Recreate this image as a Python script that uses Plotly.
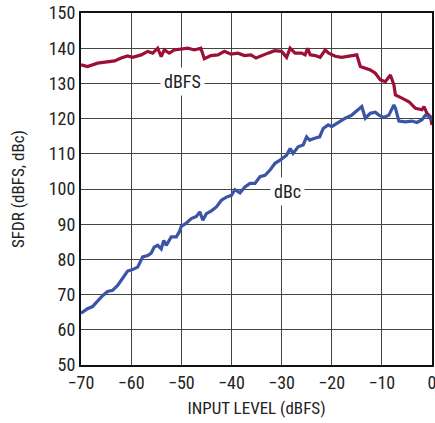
import plotly.graph_objects as go

# dBFS series
dbfs_x = [-70, -68.7, -66.7, -64.7, -63.3, -62, -60.7, -59.7, -58, -56.7,
          -55.7, -54.7, -54, -53.4, -52.4, -51.4, -50, -48.7, -47.4, -46.1,
          -45.4, -44.1, -42.7, -41.4, -40.1, -38.7, -37.4, -36.1, -35.1, -34,
          -32.7, -31.4, -30, -29, -28.3, -27.3, -26, -25.3, -24.8, -24.3,
          -23.3, -22.3, -21.3, -20.6, -19.3, -18, -16.6, -15, -14.3, -13.3,
          -12.3, -11.3, -10.3, -9.3, -8.3, -7.6, -7.3, -6, -4.6, -3.3,
          -2, -1.6, -1, -0.3, 0]
dbfs_y = [135.3, 134.8, 135.75, 136.2, 136.4, 137.2, 137.8, 137.4, 138.1, 139.1,
          138.6, 140, 137.6, 139.5, 138.6, 139.5, 139.8, 140, 139.5, 140,
          137, 137.9, 138.1, 139.1, 138.3, 138.6, 137.9, 138.1, 137.2, 137.9,
          138.6, 139.3, 139.1, 137.4, 140, 138.6, 138.6, 138.1, 140, 138.1,
          137.9, 137.4, 139.5, 138.6, 137.7, 137.4, 137.7, 138.1, 134.8, 134.3,
          133.8, 132.9, 131, 130.5, 132.4, 129.6, 126.7, 125.8, 124.8, 122.9,
          122.5, 123.4, 121.5, 120.5, 118.2]

# dBc series
dbc_x = [-70, -68.7, -67.7, -66.7, -65.7, -64.7, -63.7, -62.7, -61.7, -60.7,
         -59.7, -58.7, -57.7, -56.7, -56, -55.4, -54.7, -54, -53.5, -53,
         -52, -51, -50.4, -50, -49, -48, -47, -46.3, -45.7, -45,
         -44, -43, -42, -41, -40, -39.3, -38.3, -37.3, -36.3, -35.3,
         -34.3, -33.3, -32.3, -31.3, -30.3, -29.3, -29, -28.3, -27.7, -26.7,
         -25.7, -25, -24.4, -23.4, -22.4,
         -21.7, -20.7, -20, -19, -18.6, -17.3, -16, -14.6, -14, -13.3,
         -12.3, -11.3, -10.6, -9.6, -8.6, -7.6, -7.3, -6.6, -5.3, -4,
         -3, -2, -1.3, -0.6, 0]
dbc_y = [64.7, 66.0, 66.6, 68.3, 69.7, 70.9, 71.2, 72.6, 74.5, 76.7,
         77.1, 77.8, 80.7, 81.1, 81.8, 83.5, 84, 83.0, 85.4, 84,
         86.4, 86.4, 87.8, 89.4, 90.3, 91.6, 92.2, 93.5, 91.1, 93,
         93.8, 94.9, 96.8, 97.7, 98.2, 99.8, 98.9, 100.6, 101.6, 101.6,
         103.5, 103.9, 105.4, 107.3, 108.2, 109.1, 109.6, 111.5, 110.1, 112,
         112.5, 114.8, 113.9, 114.4, 114.8,
         117.2, 118.2, 117.7, 118.6, 118.7, 120.1, 121, 122.5, 123.4, 120.1,
         121.5, 121.8, 121, 120.3, 121, 123.9, 123, 119.3, 119.1, 119.3,
         118.9, 119.7, 121, 120.6, 119.6]

x_ticks = [-70, -60, -50, -40, -30, -20, -10, 0]
y_ticks = [50, 60, 70, 80, 90, 100, 110, 120, 130, 140, 150]

FONT = "Liberation Sans Narrow, Roboto Condensed, Arial Narrow, Liberation Sans, sans-serif"
RED = "#9c0f36"
BLUE = "#3a55a5"

fig = go.Figure()
fig.add_trace(go.Scatter(x=dbfs_x, y=dbfs_y, mode="lines",
                         line=dict(color=RED, width=3.2), showlegend=False))
fig.add_trace(go.Scatter(x=dbc_x, y=dbc_y, mode="lines",
                         line=dict(color=BLUE, width=3.2), showlegend=False))

fig.add_annotation(x=-49.8, y=130.6, text="dBFS", showarrow=False,
                   bgcolor="white", borderpad=3,
                   font=dict(family=FONT, size=18, color="#222"))
fig.add_annotation(x=-28.8, y=99.4, text="dBc", showarrow=False,
                   bgcolor="white", borderpad=3,
                   font=dict(family=FONT, size=18, color="#222"))

fig.update_layout(
    width=435, height=423,
    margin=dict(l=81, r=3, t=13, b=58, autoexpand=False),
    plot_bgcolor="white", paper_bgcolor="white",
    font=dict(family=FONT, size=18, color="#222"),
)
fig.update_xaxes(range=[-70, 0], tickvals=x_ticks, showgrid=True,
                 gridcolor="#444", gridwidth=1.3, zeroline=False,
                 showline=True, linecolor="#111", linewidth=2, mirror=True,
                 ticks="", tickfont=dict(size=18), automargin=False,
                 ticklabeloverflow="allow",
                 title=dict(text="INPUT LEVEL (dBFS)", font=dict(size=17), standoff=11))
fig.update_yaxes(range=[50, 150], tickvals=y_ticks, showgrid=True,
                 gridcolor="#444", gridwidth=1.3, zeroline=False,
                 showline=True, linecolor="#111", linewidth=2, mirror=True,
                 ticks="", tickfont=dict(size=18), automargin=False,
                 ticklabeloverflow="allow",
                 title=dict(text="SFDR (dBFS, dBc)", font=dict(size=17), standoff=20))

fig.write_html("out.html", config={"displayModeBar": False},
               post_script="document.body.style.margin='0px';document.body.style.overflow='hidden';")
